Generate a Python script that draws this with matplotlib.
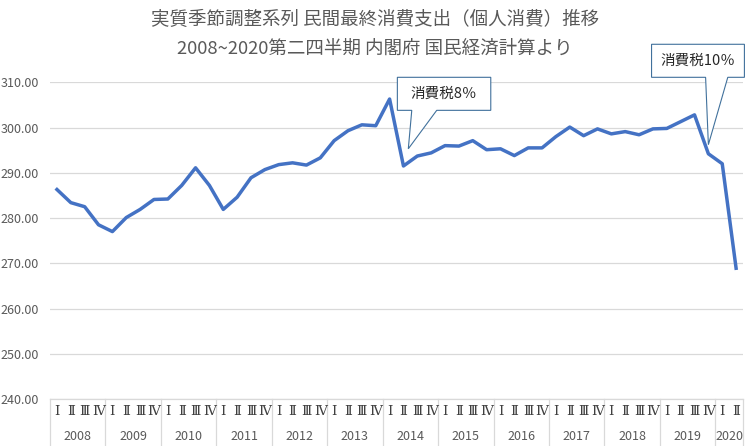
#!/usr/bin/env python3
"""Real private final consumption expenditure (seasonally adjusted), 2008 Q1 - 2020 Q2."""

import matplotlib
matplotlib.use("Agg")
import matplotlib.pyplot as plt
import matplotlib.transforms as mtransforms
from matplotlib.patches import Polygon
import numpy as np

plt.rcParams["font.family"] = ["Noto Sans CJK JP", "DejaVu Sans"]

TITLE_LINES = [
    "実質季節調整系列 民間最終消費支出（個人消費）推移",
    "2008~2020第二四半期 内閣府 国民経済計算より",
]
YEARS = ["2008", "2009", "2010", "2011", "2012", "2013", "2014",
         "2015", "2016", "2017", "2018", "2019", "2020"]
QUARTER_NAMES = ["Ⅰ", "Ⅱ", "Ⅲ", "Ⅳ"]
QUARTERS_PER_YEAR = [4, 4, 4, 4, 4, 4, 4, 4, 4, 4, 4, 4, 2]
CONSUMPTION = [
    286.3, 283.4, 282.5, 278.5,   # 2008
    277.0, 280.1, 281.9, 284.1,   # 2009
    284.2, 287.2, 291.1, 287.2,   # 2010
    281.9, 284.6, 288.9, 290.7,   # 2011
    291.8, 292.2, 291.7, 293.3,   # 2012
    297.1, 299.3, 300.6, 300.4,   # 2013
    306.3, 291.5, 293.7, 294.4,   # 2014
    296.0, 295.9, 297.1, 295.1,   # 2015
    295.3, 293.8, 295.5, 295.5,   # 2016
    298.0, 300.1, 298.2, 299.7,   # 2017
    298.6, 299.1, 298.4, 299.7,   # 2018
    299.8, 301.3, 302.8, 294.2,   # 2019
    292.0, 268.9,                 # 2020
]
Y_TICKS = [240, 250, 260, 270, 280, 290, 300, 310]
CALLOUT_TEXTS = ["消費税8％", "消費税10％"]

LINE_COLOR = "#4472C4"
GRID_COLOR = "#D9D9D9"
TEXT_COLOR = "#595959"
CALLOUT_EDGE = "#41719C"


def draw_callout(ax, text, box, base, tip):
    x0, x1, y_top, y_bot = box
    b0, b1 = base
    verts = [(x0, y_top), (x1, y_top), (x1, y_bot), (b1, y_bot),
             tip, (b0, y_bot), (x0, y_bot)]
    ax.add_patch(Polygon(verts, closed=True, facecolor="white",
                         edgecolor=CALLOUT_EDGE, linewidth=0.8,
                         clip_on=False, zorder=5))
    ax.text((x0 + x1) / 2, (y_top + y_bot) / 2, text, ha="center",
            va="center", fontsize=10.5, color="#262626", zorder=6)


def main() -> None:
    fig = plt.figure(figsize=(7.5, 4.46), dpi=100)
    ax = fig.add_axes([0.0667, 0.1054, 0.924, 0.7101])

    x = np.arange(len(CONSUMPTION))
    ax.plot(x, CONSUMPTION, color=LINE_COLOR, linewidth=2.5,
            solid_joinstyle="round", zorder=4)

    ax.set_xlim(-0.5, len(CONSUMPTION) - 0.5)
    ax.set_ylim(240, 310)
    ax.set_yticks(Y_TICKS)
    ax.set_yticklabels([f"{v:.2f}" for v in Y_TICKS])
    ax.tick_params(axis="y", length=0, pad=8, labelsize=9, labelcolor=TEXT_COLOR)
    ax.set_xticks([])
    ax.grid(axis="y", color=GRID_COLOR, linewidth=0.9)
    ax.set_axisbelow(True)
    for side in ["left", "right", "top"]:
        ax.spines[side].set_visible(False)
    ax.spines["bottom"].set_color(GRID_COLOR)
    ax.spines["bottom"].set_linewidth(0.9)

    # two-level category axis: quarters on top, years below
    trans = mtransforms.blended_transform_factory(ax.transData, ax.transAxes)
    start = -0.5
    ax.plot([start, start], [0, -0.15], transform=trans, color=GRID_COLOR,
            linewidth=0.9, clip_on=False)
    idx = 0
    for year, n in zip(YEARS, QUARTERS_PER_YEAR):
        for q in range(n):
            ax.text(idx + q, -0.038, QUARTER_NAMES[q], transform=trans,
                    ha="center", va="center", fontsize=9.5,
                    family=["DejaVu Serif", "Noto Sans CJK JP"], color="#404040")
        ax.text(start + n / 2, -0.119, year, transform=trans, ha="center",
                va="center", fontsize=9, color=TEXT_COLOR)
        start += n
        idx += n
        ax.plot([start, start], [0, -0.15], transform=trans, color=GRID_COLOR,
                linewidth=0.9, clip_on=False)

    for i, line in enumerate(TITLE_LINES):
        fig.text(0.5, 0.955 - i * 0.065, line, ha="center", va="center",
                 fontsize=13.3, color=TEXT_COLOR)

    draw_callout(ax, CALLOUT_TEXTS[0], (24.56, 31.3, 311.1, 303.8),
                 (25.6, 27.4), (25.35, 295.3))
    draw_callout(ax, CALLOUT_TEXTS[1], (42.9, 49.6, 318.4, 311.1),
                 (46.8, 48.4), (47.0, 296.2))

    fig.savefig("out.png", dpi=100)
    plt.close(fig)


if __name__ == "__main__":
    main()
